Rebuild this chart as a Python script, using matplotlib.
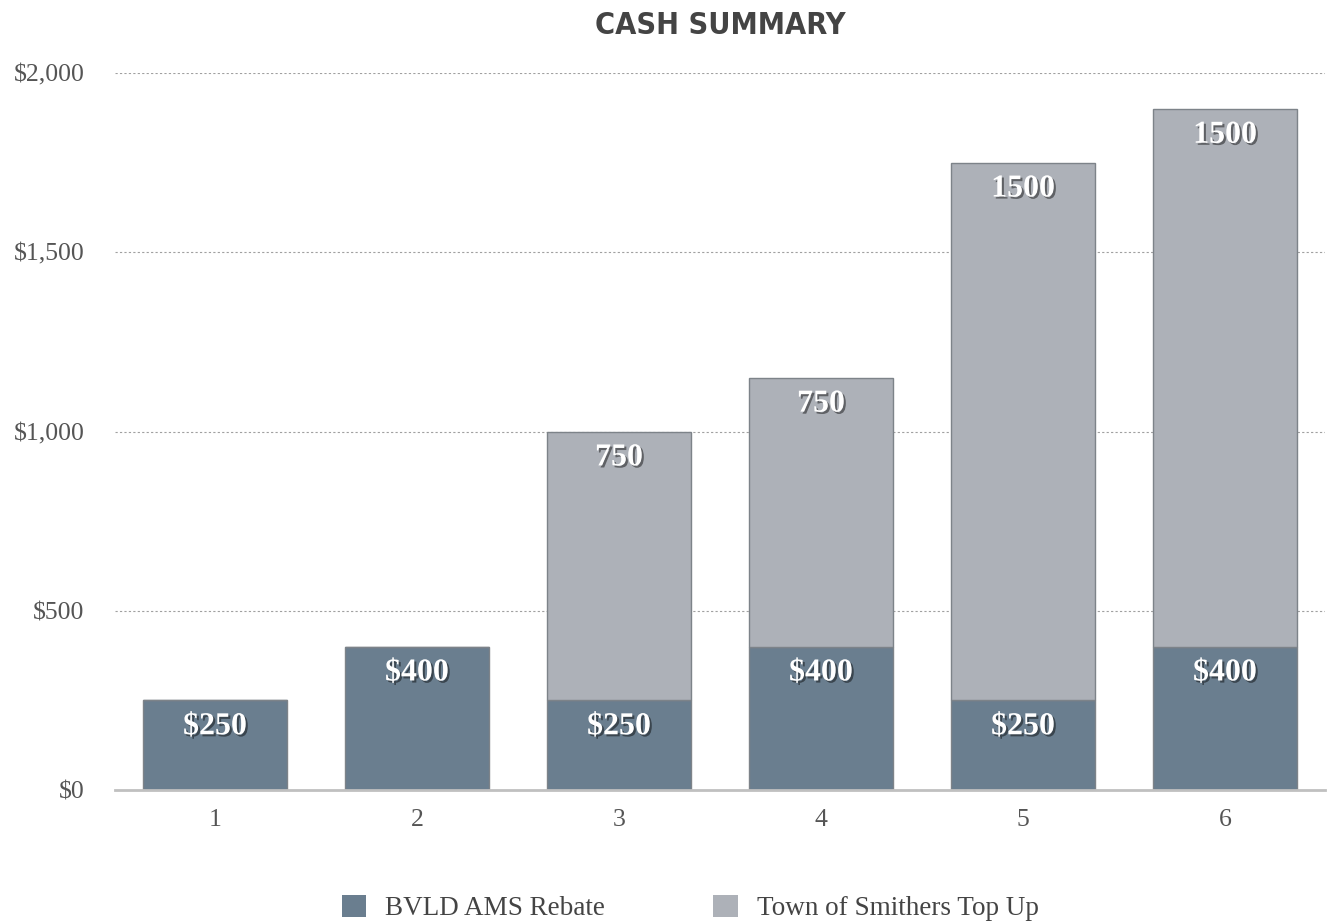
import matplotlib
matplotlib.use("Agg")
import matplotlib.pyplot as plt
import matplotlib.patheffects as pe
from matplotlib.patches import Patch
from matplotlib.ticker import FuncFormatter

# data
categories = ["1", "2", "3", "4", "5", "6"]
rebate = [250, 400, 250, 400, 250, 400]
top_up = [0, 0, 750, 750, 1500, 1500]
series_names = ["BVLD AMS Rebate", "Town of Smithers Top Up"]

dark = "#6a7e8f"
light = "#adb1b8"
serif = ["Liberation Serif", "DejaVu Serif"]

fig = plt.figure(figsize=(13.3, 9.23), dpi=100)
ax = fig.add_axes([115 / 1330, 1 - 790 / 923, 1210 / 1330, 717 / 923])

x = range(1, len(categories) + 1)
b1 = ax.bar(x, rebate, width=0.715, color=dark, edgecolor="#7d8389", linewidth=1, zorder=3)
b2 = ax.bar(x, top_up, bottom=rebate, width=0.715, color=light, edgecolor="#7d8389",
            linewidth=1, zorder=3)

shadow = [pe.SimplePatchShadow(offset=(1.5, -1.5), shadow_rgbFace="black", alpha=0.45), pe.Normal()]

for xi, r, t in zip(x, rebate, top_up):
    ax.annotate(f"${r}", (xi, r), xytext=(0, -19), textcoords="offset points",
                ha="center", va="center", fontsize=23, fontweight="bold", color="white",
                family=serif, path_effects=shadow, zorder=5)
    if t > 0:
        ax.annotate(f"{t}", (xi, r + t), xytext=(0, -19), textcoords="offset points",
                    ha="center", va="center", fontsize=23, fontweight="bold", color="white",
                    family=serif, path_effects=shadow, zorder=5)

ax.set_xlim(0.505, 6.495)
ax.set_ylim(0, 2000)
ax.set_xticks(list(x))
ax.set_xticklabels(categories)
ax.set_yticks([0, 500, 1000, 1500, 2000])
ax.yaxis.set_major_formatter(FuncFormatter(lambda v, p: f"${v:,.0f}"))

for lab in ax.get_xticklabels() + ax.get_yticklabels():
    lab.set_family(serif)
    lab.set_fontsize(18.5)
    lab.set_color("#555555")
ax.tick_params(axis="both", length=0)
ax.tick_params(axis="x", pad=14)
ax.tick_params(axis="y", pad=22)

ax.grid(axis="y", linestyle=(0, (2, 2)), color="#a0a0a0", linewidth=0.8, zorder=0)
for s in ["top", "right", "left"]:
    ax.spines[s].set_visible(False)
ax.spines["bottom"].set_color("#c0c0c0")
ax.spines["bottom"].set_linewidth(2)
ax.spines["bottom"].set_zorder(4)

fig.text(720 / 1330, 1 - 25 / 923, "CASH SUMMARY", ha="center", va="center",
         fontsize=22, fontweight="bold", color="#444444",
         family=["DejaVu Sans"], fontstretch="condensed")

handles = [Patch(facecolor=dark, edgecolor="none"), Patch(facecolor=light, edgecolor="none")]
leg = fig.legend(handles, series_names, loc="center", ncol=2, frameon=False,
                 bbox_to_anchor=(690 / 1330, 1 - 908 / 923),
                 prop={"family": serif, "size": 19.5}, handlelength=0.9, handleheight=0.9,
                 handletextpad=0.7, columnspacing=4.0)
for t in leg.get_texts():
    t.set_color("#444444")

fig.savefig("out.png", dpi=100)
